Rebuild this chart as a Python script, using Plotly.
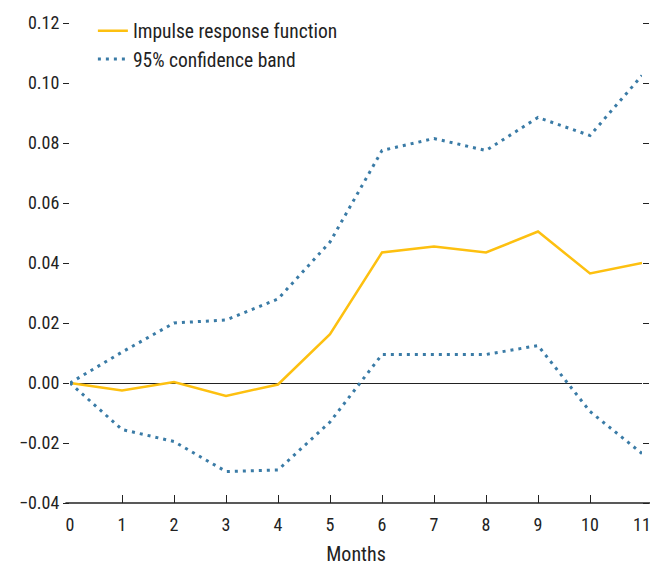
import plotly.graph_objects as go

months = list(range(12))
irf = [0.0, -0.0025, 0.0003, -0.0043, -0.0005, 0.0163, 0.0435, 0.0455, 0.0435, 0.0505, 0.0365, 0.0400]
upper = [0.0, 0.0103, 0.0200, 0.0210, 0.0280, 0.0470, 0.0775, 0.0815, 0.0775, 0.0885, 0.0825, 0.1025]
lower = [0.0, -0.0155, -0.0195, -0.0295, -0.0290, -0.0130, 0.0095, 0.0095, 0.0095, 0.0125, -0.0095, -0.0235]
ytick_vals = [-0.04, -0.02, 0.0, 0.02, 0.04, 0.06, 0.08, 0.10, 0.12]
ytick_text = ["\u22120.04", "\u22120.02", "0.00", "0.02", "0.04", "0.06", "0.08", "0.10", "0.12"]

YELLOW = "#FDC010"
BLUE = "#3A7BA6"
FONT = "Liberation Sans Narrow, Roboto Condensed, Arial Narrow, Liberation Sans, sans-serif"

fig = go.Figure()
fig.add_trace(go.Scatter(x=months, y=irf, mode="lines", name="Impulse response function",
                         line=dict(color=YELLOW, width=2.5), cliponaxis=False))
fig.add_trace(go.Scatter(x=months, y=upper, mode="lines", name="95% confidence band",
                         line=dict(color=BLUE, width=3, dash="3px,5px"), cliponaxis=False))
fig.add_trace(go.Scatter(x=months, y=lower, mode="lines", name="lower", showlegend=False,
                         line=dict(color=BLUE, width=3, dash="3px,5px"), cliponaxis=False))

fig.update_layout(
    width=651, height=566,
    margin=dict(l=70, r=9, t=23, b=63),
    paper_bgcolor="white", plot_bgcolor="white",
    font=dict(family=FONT, size=18, color="#222222"),
    showlegend=True,
    legend=dict(x=0.04, y=1.024, xanchor="left", yanchor="top", bgcolor="rgba(0,0,0,0)",
                font=dict(size=19.5), tracegroupgap=0, itemwidth=30),
    xaxis=dict(range=[0, 11], tickvals=months, ticks="inside", ticklen=8, tickcolor="#222222",
               showline=False, showgrid=False, zeroline=False, automargin=False,
               ticklabelstandoff=9,
               title=dict(text="Months", standoff=20, font=dict(size=20)), tickfont=dict(size=18)),
    yaxis=dict(range=[-0.04, 0.12], tickvals=ytick_vals, ticktext=ytick_text,
               ticks="outside", ticklen=6, tickcolor="#222222", mirror="ticks",
               showline=False, showgrid=False, zeroline=True, zerolinecolor="#222222",
               zerolinewidth=1, tickfont=dict(size=18), automargin=False),
    shapes=[dict(type="line", xref="paper", yref="paper", x0=-0.008, x1=1.014, y0=0, y1=0,
                 line=dict(color="#222222", width=1.5))],
)

fig.write_html("out.html")
